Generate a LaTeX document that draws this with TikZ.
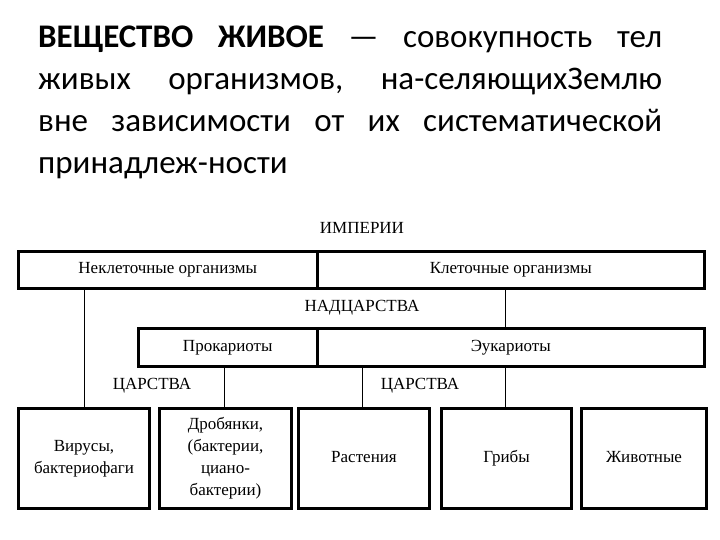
\documentclass[tikz,border=0pt]{standalone}
\usepackage{fontspec}
\setmainfont{Liberation Serif}
\newfontfamily\titlefont{Carlito}
\begin{document}
\begin{tikzpicture}[x=1pt,y=-1pt,
  bar/.style={draw,line width=2.5pt},
  lbl/.style={font=\fontsize{17}{19}\selectfont,inner sep=0pt},
  bx/.style={draw,line width=3pt,minimum height=100pt,align=center,font=\fontsize{17}{22}\selectfont,inner sep=1pt},
  ln/.style={line width=1pt}]
\useasboundingbox (0,0) rectangle (720,540);
\node[anchor=north west,inner sep=0pt,font=\titlefont\fontsize{33}{42}\selectfont,align=left] (title) at (38,26) {%
\hbox to 624pt{\textbf{ВЕЩЕСТВО}\hfil\textbf{ЖИВОЕ}\hfil—\hfil совокупность\hfil тел}\\
\hbox to 624pt{живых\hfil организмов,\hfil на-селяющихЗемлю}\\
\hbox to 624pt{вне\hfil зависимости\hfil от\hfil их\hfil систематической}\\
принадлеж-ности};
\node[lbl] (imp) at (362,228) {ИМПЕРИИ};
\node[bar,minimum width=299pt,minimum height=37pt,anchor=north west,lbl] (nekl) at (17,250) {Неклеточные организмы};
\node[bar,minimum width=387pt,minimum height=37pt,anchor=north west,lbl] (kl) at (316,250) {Клеточные организмы};
\node[lbl] (nad) at (362,308) {НАДЦАРСТВА};
\node[bar,minimum width=179pt,minimum height=38pt,anchor=north west,lbl] (prok) at (137,327) {Прокариоты};
\node[bar,minimum width=387pt,minimum height=38pt,anchor=north west,lbl] (euk) at (316,327) {Эукариоты};
\node[lbl] (c1) at (152,386) {ЦАРСТВА};
\node[lbl] (c2) at (420,386) {ЦАРСТВА};
\node[bx,minimum width=131pt,anchor=north west] (vir) at (17,407) {Вирусы,\\бактериофаги};
\node[bx,minimum width=132pt,anchor=north west] (drob) at (158,407) {Дробянки,\\(бактерии,\\циано-\\бактерии)};
\node[bx,minimum width=131pt,anchor=north west] (rast) at (297,407) {\strut Растения};
\node[bx,minimum width=130pt,anchor=north west] (grib) at (440,407) {\strut Грибы};
\node[bx,minimum width=125pt,anchor=north west] (zhiv) at (580,407) {\strut Животные};
\draw[ln] (nekl.south -| vir.north west) ++(67,0) coordinate (a1) -- (a1 |- vir.north);
\draw[ln] (kl.south -| 505,0) -- (euk.north -| 505,0);
\draw[ln] (prok.south -| 224,0) -- (drob.north -| 224,0);
\draw[ln] (euk.south -| 362,0) -- (rast.north -| 362,0);
\draw[ln] (euk.south -| 505,0) -- (grib.north -| 505,0);
\end{tikzpicture}
\end{document}
